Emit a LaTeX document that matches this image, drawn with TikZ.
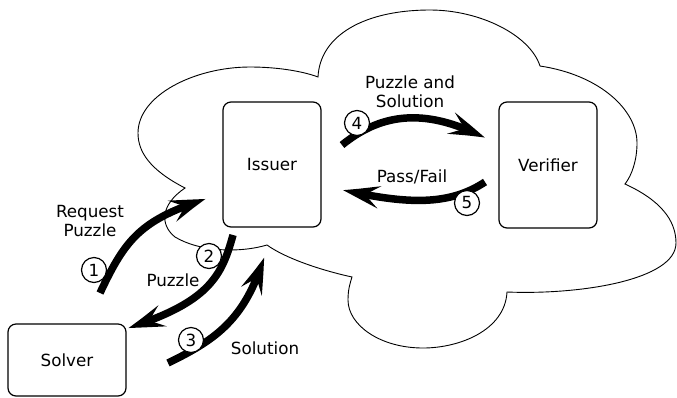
\documentclass[tikz,border=0pt]{standalone}
\usepackage{fontspec}
\setmainfont{DejaVu Sans}
\usetikzlibrary{arrows.meta,bending}
\begin{document}
\begin{tikzpicture}[x=1bp,y=-1bp,
  box/.style={draw, rounded corners=8bp, line width=1.2bp, inner sep=0pt,
    font=\fontsize{16.8}{19.5}\selectfont},
  lbl/.style={font=\fontsize{16.8}{19.5}\selectfont, align=center, inner sep=0pt},
  flow/.style={line width=7.5bp, -{Stealth[length=38bp,width=22bp,inset=15bp,bend]}},
  num/.style={circle, draw, fill=white, line width=1.2bp, minimum size=25bp,
    inner sep=0pt, font=\fontsize{16.8}{19.5}\selectfont},
  cloudline/.style={draw, line width=0.9bp}]
\useasboundingbox (0,0) rectangle (677,397);

% cloud
\draw[cloudline] (185,188) .. controls (150,170) and (138,152) .. (138,133)
 .. controls (138,95) and (195,67) .. (250,67)
 .. controls (280,67) and (305,72) .. (318,77)
 .. controls (320,35) and (365,10) .. (430,10)
 .. controls (480,10) and (530,35) .. (540,66)
 .. controls (600,75) and (637,110) .. (637,143)
 .. controls (637,160) and (632,175) .. (625,184)
 .. controls (660,200) and (676,220) .. (676,243)
 .. controls (676,280) and (580,295) .. (507,292)
 .. controls (505,330) and (460,348) .. (423,348)
 .. controls (380,348) and (348,325) .. (348,300)
 .. controls (348,290) and (350,283) .. (352,277)
 .. controls (320,270) and (285,258) .. (267,245)
 .. controls (240,253) and (200,252) .. (175,237)
 .. controls (160,225) and (160,205) .. (185,188) -- cycle;

% boxes
\node[box, minimum width=98bp, minimum height=125bp] (issuer) at (272,164.5) {Issuer};
\node[box, minimum width=98bp, minimum height=126bp] (verifier) at (548,165) {Verifier};
\node[box, minimum width=118bp, minimum height=72bp] (solver) at (67,360) {Solver};

% arrow end points
\coordinate (a1s) at (100,293); \coordinate (a1e) at (206,199);
\coordinate (a2s) at (233,235); \coordinate (a2e) at (128,328);
\coordinate (a3s) at (168,363); \coordinate (a3e) at (264,257);
\coordinate (a4s) at (342,145); \coordinate (a4e) at (485,138);
\coordinate (a5s) at (485,182); \coordinate (a5e) at (343,190);

\draw[flow] (a1s) .. controls (125,240) and (140,220) .. (a1e);
\draw[flow] (a2s) .. controls (222,275) and (210,302) .. (a2e);
\draw[flow] (a3s) .. controls (215,340) and (245,320) .. (a3e);
\draw[flow] (a4s) .. controls (385,110) and (430,110) .. (a4e);
\draw[flow] (a5s) .. controls (450,205) and (410,205) .. (a5e);

% numbers
\node[num] (n1) at (94,270) {1};
\node[num] (n2) at (209,256) {2};
\node[num] (n3) at (191,340) {3};
\node[num] (n4) at (357,123) {4};
\node[num] (n5) at (467,203) {5};

% labels
\node[lbl] (l1) at (90,221) {Request\\Puzzle};
\node[lbl] (l2) at (173,280) {Puzzle};
\node[lbl] (l3) at (265,348) {Solution};
\node[lbl] (l4) at (410,92) {Puzzle and\\Solution};
\node[lbl] (l5) at (412,177) {Pass/Fail};
\end{tikzpicture}
\end{document}
